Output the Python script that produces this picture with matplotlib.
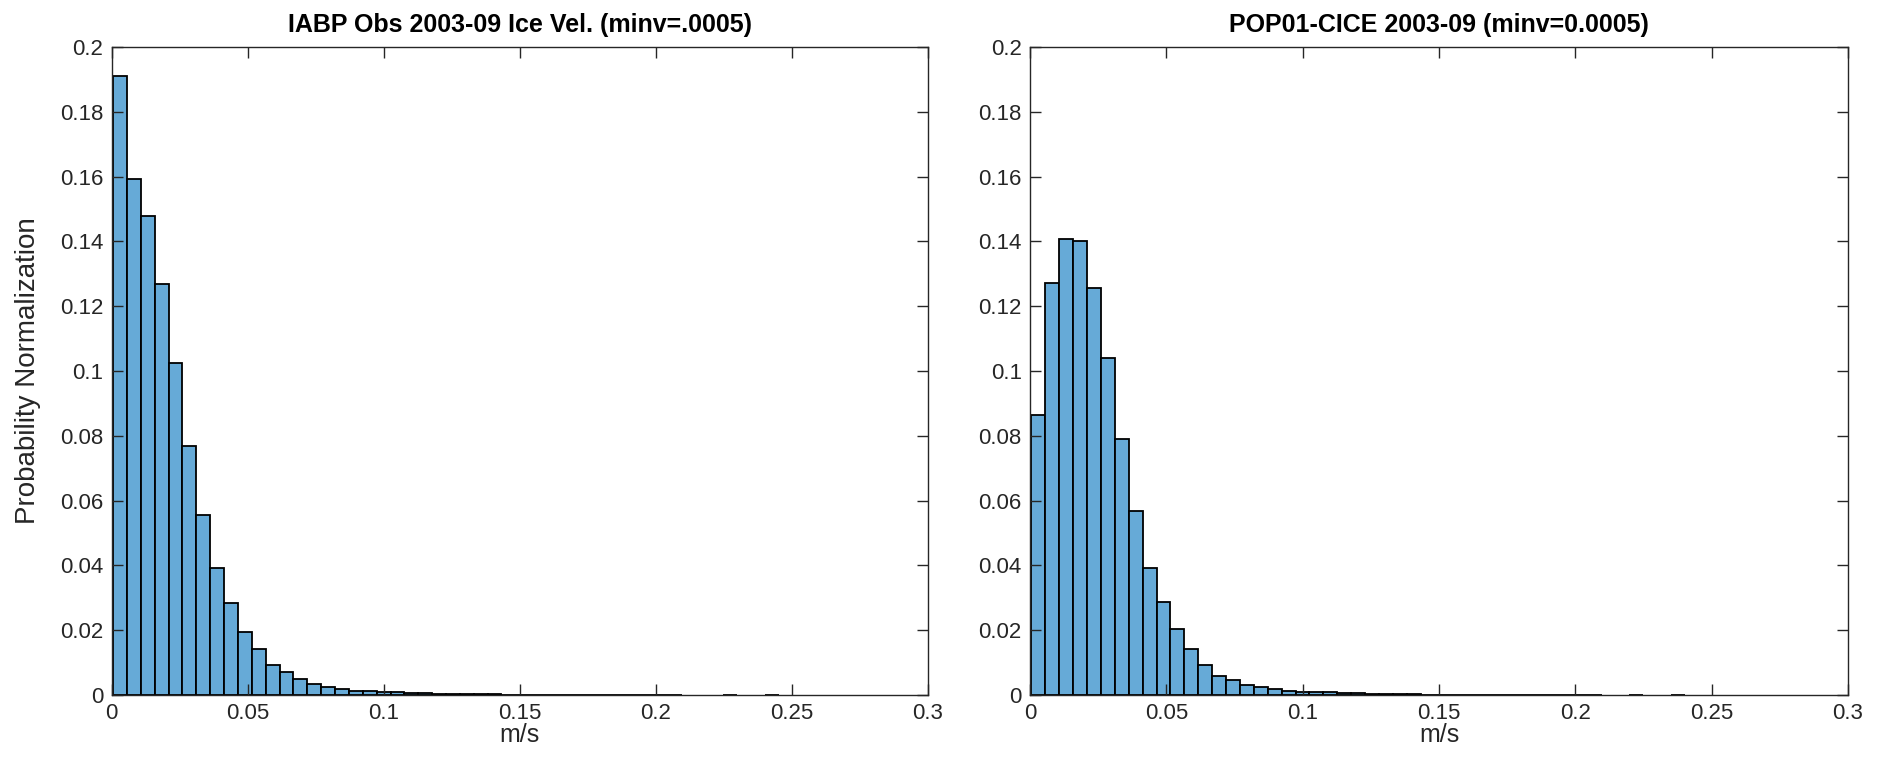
import numpy as np
import matplotlib
matplotlib.use("Agg")
import matplotlib.pyplot as plt

# ---- data ----
bin_start = 0.0005
bin_width = 0.0051

obs_prob = [0.1911, 0.1593, 0.1478, 0.1268, 0.1024, 0.0767, 0.0557, 0.0392,
            0.0283, 0.0193, 0.0142, 0.0094, 0.0071, 0.0048, 0.0033, 0.0024,
            0.0017, 0.0012, 0.0011, 0.0008, 0.0008, 0.0007, 0.0007,
            0.0003, 0.0003, 0.0002, 0.0002, 0.0002, 0.00015, 0.00012, 0.0001,
            0.0001, 0.00008, 0.00007, 0.00006, 0.00005, 0.00004, 0.00004,
            0.00003, 0.00003, 0.00002, 0.0, 0.0, 0.0, 0.00002, 0.0, 0.0,
            0.00001]

mod_prob = [0.0865, 0.1272, 0.1407, 0.1400, 0.1256, 0.1041, 0.0790, 0.0567,
            0.0392, 0.0288, 0.0205, 0.0142, 0.0094, 0.0059, 0.0045, 0.0030,
            0.0024, 0.0017, 0.0012, 0.0008, 0.0008, 0.0008, 0.0007, 0.0007,
            0.0003, 0.0003, 0.0002, 0.0002, 0.00015, 0.00012, 0.0001, 0.0001,
            0.00008, 0.00007, 0.00006, 0.00005, 0.00004, 0.00004, 0.00003,
            0.00003, 0.00002, 0.0, 0.0, 0.00002, 0.0, 0.0, 0.00001]

titles = ["IABP Obs 2003-09 Ice Vel. (minv=.0005)",
          "POP01-CICE 2003-09 (minv=0.0005)"]
xticks = [0, 0.05, 0.1, 0.15, 0.2, 0.25, 0.3]
xticklabels = ["0", "0.05", "0.1", "0.15", "0.2", "0.25", "0.3"]
yticks = [0, 0.02, 0.04, 0.06, 0.08, 0.1, 0.12, 0.14, 0.16, 0.18, 0.2]
yticklabels = ["0", "0.02", "0.04", "0.06", "0.08", "0.1", "0.12", "0.14",
               "0.16", "0.18", "0.2"]
xlabel = "m/s"
ylabel = "Probability Normalization"

# ---- style ----
plt.rcParams['font.family'] = ['Liberation Sans', 'DejaVu Sans']
face = (0.4, 0.668, 0.845)
axcol = (0.15, 0.15, 0.15)

fig = plt.figure(figsize=(18.85, 7.63), dpi=100)
positions = [[111.7 / 1885, 68 / 763, 816 / 1885, 648 / 763],
             [1030 / 1885, 68 / 763, 818 / 1885, 648 / 763]]

for i, (vals, title) in enumerate(zip([obs_prob, mod_prob], titles)):
    ax = fig.add_axes(positions[i])
    vals = np.asarray(vals)
    lefts = bin_start + bin_width * np.arange(len(vals))
    m = vals > 0
    ax.bar(lefts[m], vals[m], width=bin_width, align='edge', color=face,
           edgecolor='black', linewidth=1.3)
    ax.set_xlim(0, 0.3)
    ax.set_ylim(0, 0.2)
    ax.set_xticks(xticks)
    ax.set_xticklabels(xticklabels)
    ax.set_yticks(yticks)
    ax.set_yticklabels(yticklabels)
    ax.tick_params(direction='in', top=True, right=True, length=8, width=1.0,
                   colors=axcol, labelsize=16, pad=6)
    for s in ax.spines.values():
        s.set_color(axcol)
        s.set_linewidth(1.0)
    ax.set_title(title, fontsize=18, fontweight='bold', color='black', pad=11)
    ax.set_xlabel(xlabel, fontsize=18, color=axcol, labelpad=-1)
    if i == 0:
        ax.set_ylabel(ylabel, fontsize=20, color=axcol, labelpad=14)

fig.savefig("out.png", dpi=100, facecolor='white')
